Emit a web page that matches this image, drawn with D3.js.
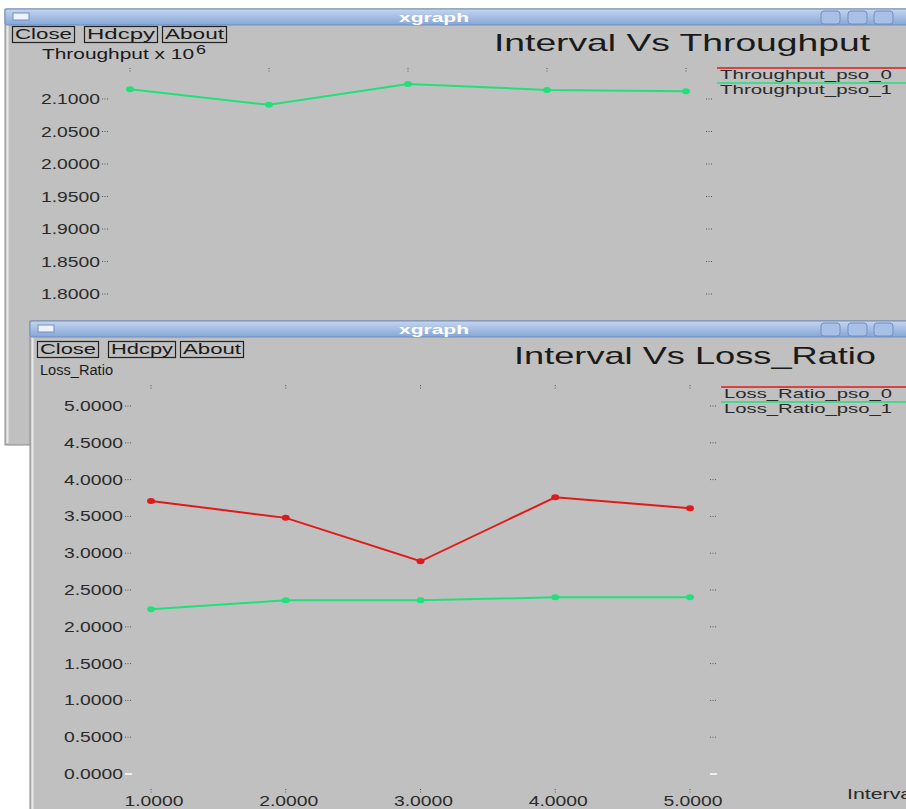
<!DOCTYPE html>
<html><head><meta charset="utf-8">
<script src="https://cdn.jsdelivr.net/npm/d3@7"></script>
<style>body{margin:0;background:#fff;}svg{display:block;font-family:"Liberation Sans",Arial,sans-serif;}</style>
</head><body>
<script>
// ---- data ----
const intervals = [1, 2, 3, 4, 5];
const xTickLabels = ["1.0000", "2.0000", "3.0000", "4.0000", "5.0000"];
const thrTicks = [1.75, 1.80, 1.85, 1.90, 1.95, 2.00, 2.05, 2.10];
const thrPso1 = [2.115, 2.091, 2.123, 2.114, 2.112];
const lossTicks = [0, 0.5, 1, 1.5, 2, 2.5, 3, 3.5, 4, 4.5, 5];
const lossPso0 = [3.71, 3.48, 2.89, 3.76, 3.61];
const lossPso1 = [2.24, 2.36, 2.36, 2.40, 2.40];
const thrSeries = ["Throughput_pso_0", "Throughput_pso_1"];
const lossSeries = ["Loss_Ratio_pso_0", "Loss_Ratio_pso_1"];

const RED = "#e01a1a", GREEN = "#20e07a", BG = "#c0c0c0";
const svg = d3.select("body").append("svg").attr("width", 906).attr("height", 809);
const defs = svg.append("defs");
const g = defs.append("linearGradient").attr("id", "tb").attr("x1", 0).attr("y1", 0).attr("x2", 0).attr("y2", 1);
g.append("stop").attr("offset", "0%").attr("stop-color", "#c4d6f0");
g.append("stop").attr("offset", "100%").attr("stop-color", "#86a6d6");
svg.append("rect").attr("width", 906).attr("height", 809).attr("fill", "#fff");

function txt(gr, x, y, s, size, len, anchor) {
  const t = gr.append("text").attr("x", x).attr("y", y).attr("font-size", size).attr("fill", "#1a1a1a")
    .attr("text-anchor", anchor || "start").text(s);
  if (len) t.attr("textLength", len).attr("lengthAdjust", "spacingAndGlyphs");
  return t;
}

function windowFrame(gr, x, y, w, h) {
  gr.append("rect").attr("x", x).attr("y", y).attr("width", w).attr("height", h)
    .attr("fill", BG).attr("stroke", "#8a8a8a").attr("stroke-width", 1);
  gr.append("line").attr("x1", x + 2.5).attr("x2", x + 2.5).attr("y1", y + 16).attr("y2", y + h - 2)
    .attr("stroke", "#e8e8e8").attr("stroke-width", 2);
  gr.append("rect").attr("x", x).attr("y", y).attr("width", w).attr("height", 16).attr("rx", 2)
    .attr("fill", "url(#tb)").attr("stroke", "#6f8fc2");
  gr.append("rect").attr("x", x + 8).attr("y", y + 4).attr("width", 16).attr("height", 7)
    .attr("fill", "#eef2fa").attr("stroke", "#6f8fc2");
  txt(gr, 434, y + 12.5, "xgraph", 13, 70, "middle").attr("fill", "#fff").attr("font-weight", "bold");
  [821, 848, 874].forEach(bx => {
    gr.append("rect").attr("x", bx).attr("y", y + 2).attr("width", 19).attr("height", 13).attr("rx", 3)
      .attr("fill", "#a9c0e6").attr("stroke", "#6f8fc2");
  });
}

function buttons(gr, xs, y) {
  const labels = ["Close", "Hdcpy", "About"];
  xs.forEach((bx, i) => {
    gr.append("rect").attr("x", bx[0] + 0.5).attr("y", y + 0.5).attr("width", bx[1] - bx[0]).attr("height", 16)
      .attr("fill", "none").attr("stroke", "#222").attr("stroke-width", 1.2);
    txt(gr, bx[0] + 3, y + 13, labels[i], 14, bx[1] - bx[0] - 5);
  });
}

function chart(gr, o) {
  const x = d3.scaleLinear().domain([1, 5]).range(o.xr);
  const y = d3.scaleLinear().domain(o.yd).range(o.yr);
  txt(gr, o.titleX, o.titleY, o.title, 24, o.titleLen);
  txt(gr, o.ylabX, o.ylabY, o.ylab, 14, o.ylabLen);
  if (o.sup) txt(gr, o.ylabX + o.ylabLen + 2, o.ylabY - 5, o.sup, 12, 10);
  o.ticks.forEach(t => {
    txt(gr, o.labRight, y(t) + 5, t.toFixed(4), 15, 59, "end").attr("fill", "#2a2a2a");
    const isZero = t === 0;
    gr.append("line").attr("x1", o.labRight + 2).attr("x2", o.labRight + 9).attr("y1", y(t)).attr("y2", y(t))
      .attr("stroke", isZero ? "#eee" : "#555").attr("stroke-width", isZero ? 2 : 1).attr("stroke-dasharray", isZero ? null : "1,1.5");
    gr.append("line").attr("x1", o.xr[1] + 20).attr("x2", o.xr[1] + 27).attr("y1", y(t)).attr("y2", y(t))
      .attr("stroke", isZero ? "#eee" : "#555").attr("stroke-width", isZero ? 2 : 1).attr("stroke-dasharray", isZero ? null : "1,1.5");
  });
  intervals.forEach((v, i) => {
    gr.append("line").attr("x1", x(v)).attr("x2", x(v)).attr("y1", o.topTickY).attr("y2", o.topTickY + 5)
      .attr("stroke", "#555").attr("stroke-dasharray", "1,1.5");
    if (o.xLabY) {
      gr.append("line").attr("x1", x(v)).attr("x2", x(v)).attr("y1", o.xLabY - 17).attr("y2", o.xLabY - 12)
        .attr("stroke", "#555").attr("stroke-dasharray", "1,1.5");
      txt(gr, x(v) + 3, o.xLabY, xTickLabels[i], 15, 59, "middle").attr("fill", "#2a2a2a");
    }
  });
  const line = d3.line().x((d, i) => x(intervals[i])).y(d => y(d));
  o.series.forEach(s => {
    if (!s.values) return;
    gr.append("path").datum(s.values).attr("d", line).attr("fill", "none").attr("stroke", s.color).attr("stroke-width", 2);
    gr.selectAll(null).data(s.values).enter().append("ellipse")
      .attr("cx", (d, i) => x(intervals[i])).attr("cy", d => y(d)).attr("rx", 4).attr("ry", 3).attr("fill", s.color);
  });
  o.series.forEach((s, i) => {
    const ly = o.legY + i * 15;
    gr.append("line").attr("x1", o.legX - 3).attr("x2", 910).attr("y1", ly).attr("y2", ly).attr("stroke", s.color).attr("stroke-width", 1.3);
    txt(gr, o.legX, ly + 11, s.name, 13, o.legLen).attr("fill", "#2a2a2a");
  });
  if (o.intervalLab) {
    txt(gr, 847, 799, "Interval", 15, 70).attr("fill", "#2a2a2a");
  }
}

const topWin = svg.append("g");
windowFrame(topWin, 5, 9, 910, 436);
buttons(topWin, [[12, 74], [84, 157], [162, 226]], 26);
chart(topWin, {
  xr: [130, 686], yd: [1.8, 2.1], yr: [294, 99], ticks: thrTicks, labRight: 100,
  title: "Interval Vs Throughput", titleX: 494, titleY: 51, titleLen: 376,
  ylab: "Throughput x 10", ylabLen: 152, sup: "6", ylabX: 42, ylabY: 59,
  topTickY: 68, xLabY: null,
  series: [{ name: thrSeries[0], color: RED, values: null }, { name: thrSeries[1], color: GREEN, values: thrPso1 }],
  legX: 720, legY: 68, legLen: 172
});

const botWin = svg.append("g");
windowFrame(botWin, 30, 321, 890, 500);
buttons(botWin, [[37, 98], [108, 175], [180, 243]], 341);
chart(botWin, {
  xr: [151, 690], yd: [0, 5], yr: [774, 406], ticks: lossTicks, labRight: 123,
  title: "Interval Vs Loss_Ratio", titleX: 514, titleY: 364, titleLen: 362,
  ylab: "Loss_Ratio", ylabLen: 73, sup: null, ylabX: 40, ylabY: 375,
  topTickY: 385, xLabY: 806,
  series: [{ name: lossSeries[0], color: RED, values: lossPso0 }, { name: lossSeries[1], color: GREEN, values: lossPso1 }],
  legX: 724, legY: 387, legLen: 168, intervalLab: true
});
</script>
</body></html>
